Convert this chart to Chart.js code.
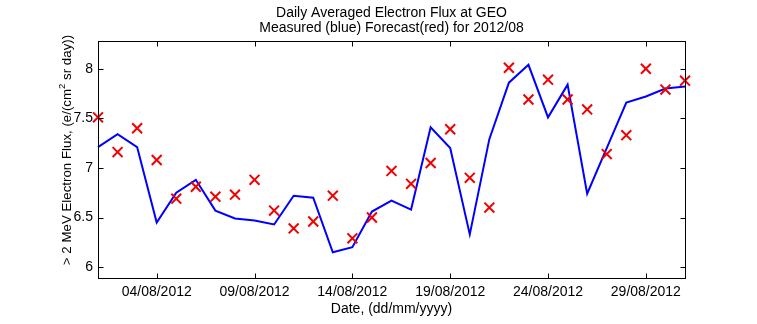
<!DOCTYPE html>
<html><head><meta charset="utf-8">
<script src="https://cdn.jsdelivr.net/npm/chart.js@4/dist/chart.umd.min.js"></script>
<style>html,body{margin:0;padding:0;background:#fff}canvas{display:block}</style>
</head><body>
<canvas id="c" width="757" height="324"></canvas>
<script>
const days = [1,2,3,4,5,6,7,8,9,10,11,12,13,14,15,16,17,18,19,20,21,22,23,24,25,26,27,28,29,30,31];
const measured = [7.21,7.34,7.21,6.45,6.75,6.88,6.57,6.49,6.47,6.43,6.72,6.70,6.15,6.20,6.56,6.67,6.58,7.41,7.20,6.33,7.29,7.86,8.04,7.51,7.84,6.74,7.20,7.66,7.72,7.80,7.82];
const forecast = [7.51,7.16,7.40,7.08,6.69,6.81,6.71,6.73,6.88,6.57,6.39,6.46,6.72,6.29,6.50,6.97,6.84,7.05,7.39,6.90,6.60,8.01,7.69,7.89,7.69,7.59,7.14,7.33,8.00,7.79,7.88];
const xTickDays = [4,9,14,19,24,29];
const xTickLabels = ['04/08/2012','09/08/2012','14/08/2012','19/08/2012','24/08/2012','29/08/2012'];
const yTickValues = [6,6.5,7,7.5,8];
const yTickLabels = ['6','6.5','7','7.5','8'];
const titleLines = ['Daily Averaged Electron Flux at GEO','Measured (blue) Forecast(red) for 2012/08'];
const xTitle = 'Date, (dd/mm/yyyy)';
const yTitleMain = '> 2 MeV Electron Flux, (e/(cm';
const yTitleSup = '2';
const yTitleEnd = ' sr day))';

const FONT = "'Liberation Sans', Arial, sans-serif";

const framePlugin = {
  id: 'frame',
  afterDraw(chart) {
    const {ctx, chartArea: a, scales: {x, y}} = chart;
    ctx.save();
    ctx.strokeStyle = '#000';
    ctx.lineWidth = 1;
    const L = Math.round(a.left) + 0.5, R = Math.round(a.right) + 0.5;
    const T = Math.round(a.top) + 0.5, B = Math.round(a.bottom) + 0.5;
    ctx.strokeRect(L, T, R - L, B - T);
    ctx.beginPath();
    x.ticks.forEach(t => {
      const px = Math.round(x.getPixelForValue(t.value)) + 0.5;
      ctx.moveTo(px, B); ctx.lineTo(px, B - 5);
      ctx.moveTo(px, T); ctx.lineTo(px, T + 5);
    });
    y.ticks.forEach(t => {
      const py = Math.round(y.getPixelForValue(t.value)) + 0.5;
      ctx.moveTo(L, py); ctx.lineTo(L + 5, py);
      ctx.moveTo(R, py); ctx.lineTo(R - 5, py);
    });
    ctx.stroke();

    ctx.fillStyle = '#000';
    ctx.font = '14px ' + FONT;
    ctx.textAlign = 'center';
    ctx.textBaseline = 'alphabetic';
    const cx = (a.left + a.right) / 2;
    ctx.fillText(titleLines[0], cx, 16.5);
    ctx.fillText(titleLines[1], cx, 32);
    ctx.fillText(xTitle, cx, 313);

    // y title with superscript
    ctx.translate(70.5, 150);
    ctx.rotate(-Math.PI / 2);
    ctx.textAlign = 'left';
    const mainFont = '13.3px ' + FONT, supFont = '9.5px ' + FONT;
    ctx.font = mainFont;
    const w1 = ctx.measureText(yTitleMain).width;
    const w3 = ctx.measureText(yTitleEnd).width;
    ctx.font = supFont;
    const w2 = ctx.measureText(yTitleSup).width;
    let sx = -(w1 + w2 + w3) / 2;
    ctx.font = mainFont;
    ctx.fillText(yTitleMain, sx, 0);
    sx += w1;
    ctx.font = supFont;
    ctx.fillText(yTitleSup, sx, -6);
    sx += w2;
    ctx.font = mainFont;
    ctx.fillText(yTitleEnd, sx, 0);
    ctx.restore();
  }
};

new Chart(document.getElementById('c'), {
  type: 'line',
  data: {
    datasets: [
      {
        label: 'Forecast',
        data: days.map((d, i) => ({x: d, y: forecast[i]})),
        showLine: false,
        pointStyle: 'crossRot',
        pointRadius: 7,
        pointBorderWidth: 2,
        borderColor: '#f00000',
        backgroundColor: '#f00000',
        clip: false
      },
      {
        label: 'Measured',
        data: days.map((d, i) => ({x: d, y: measured[i]})),
        borderColor: '#0000ff',
        borderWidth: 2,
        pointRadius: 0,
        tension: 0,
        fill: false,
        clip: false
      }
    ]
  },
  options: {
    responsive: false,
    animation: false,
    devicePixelRatio: 1,
    layout: {padding: {left: 0, right: 72, top: 41, bottom: 0}},
    plugins: {legend: {display: false}, title: {display: false}, tooltip: {enabled: false}},
    scales: {
      x: {
        type: 'linear', min: 1, max: 31,
        grid: {display: false, drawTicks: false},
        border: {display: false},
        afterBuildTicks: s => { s.ticks = xTickDays.map(v => ({value: v})); },
        afterFit: s => { s.height = 46; },
        ticks: {
          autoSkip: false, maxRotation: 0, minRotation: 0, padding: 6, color: '#000',
          font: {family: FONT, size: 14},
          callback: v => { const i = xTickDays.indexOf(v); return i >= 0 ? xTickLabels[i] : ''; }
        }
      },
      y: {
        type: 'linear', min: 5.89, max: 8.28,
        grid: {display: false, drawTicks: false},
        border: {display: false},
        afterBuildTicks: s => { s.ticks = yTickValues.map(v => ({value: v})); },
        afterFit: s => { s.width = 98; },
        ticks: {
          padding: 5, color: '#000',
          font: {family: FONT, size: 14},
          callback: v => { const i = yTickValues.indexOf(v); return i >= 0 ? yTickLabels[i] : ''; }
        }
      }
    }
  },
  plugins: [framePlugin]
});
</script>
</body></html>
